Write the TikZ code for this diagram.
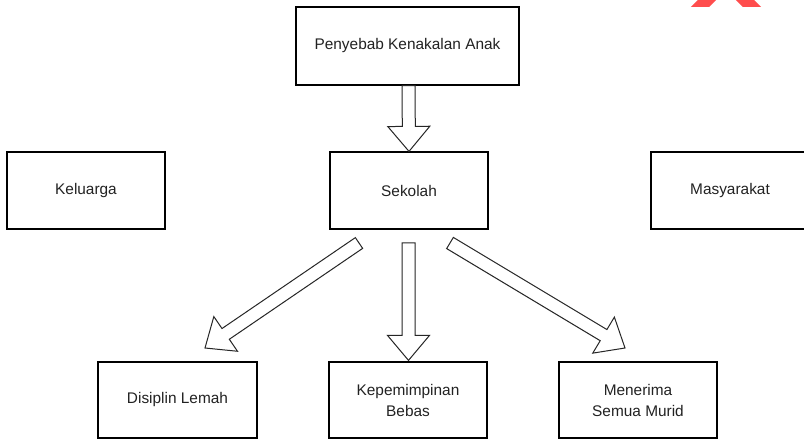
\documentclass[tikz,border=0pt]{standalone}
\usepackage{fontspec}
\setmainfont{Liberation Sans}
\usetikzlibrary{calc}
\definecolor{txt}{HTML}{222222}
\definecolor{xred}{HTML}{FF4D4D}
\tikzset{
  box/.style={draw=black, line width=1.2pt, fill=white, inner sep=0pt,
    text=txt, align=center, font=\fontsize{15.4}{21}\selectfont},
  fat/.style={draw=black!85, line width=1pt, fill=white, line join=miter},
}
\newcommand\fatarrow[2]{%
  \coordinate (fa-h) at ($(#2)!25pt!(#1)$);
  \draw[fat] ($(#1)!6.5pt!90:(#2)$) -- ($(fa-h)!6.5pt!90:(#2)$)
    -- ($(fa-h)!21pt!90:(#2)$) -- (#2) -- ($(fa-h)!21pt!-90:(#2)$)
    -- ($(fa-h)!6.5pt!-90:(#2)$) -- ($(#1)!6.5pt!-90:(#2)$) -- cycle;}
\begin{document}
\begin{tikzpicture}[x=1pt,y=-1pt]
\useasboundingbox (0,0) rectangle (804,443);
\fill[white] (0,0) rectangle (804,443);
% red mark, top right
\begin{scope}
\clip (680,0) rectangle (763,7);
\draw[xred, line width=13pt] (730,-23) -- (695,12);
\draw[xred, line width=13pt] (722,-23) -- (757,12);
\end{scope}
% boxes
\node[box, minimum width=223pt, minimum height=78pt] (top) at (407.5,46) {Penyebab Kenakalan Anak};
\node[box, minimum width=158pt, minimum height=77pt] (kel) at (86,190.5) {Keluarga};
\node[box, minimum width=158pt, minimum height=77pt] (sek) at (409,190.5) {Sekolah};
\node[box, minimum width=158pt, minimum height=77pt] (mas) at (730,190.5) {Masyarakat};
\node[box, minimum width=159pt, minimum height=76pt] (dis) at (177.5,400) {Disiplin Lemah};
\node[box, minimum width=158pt, minimum height=76pt] (kep) at (408,400) {Kepemimpinan\\Bebas};
\node[box, minimum width=158pt, minimum height=76pt] (men) at (638,400) {Menerima\\Semua Murid};
% arrow ends
\coordinate (a0) at ($(top.south)+(1,0)$);
\coordinate (b0) at (sek.north);
\coordinate (a1) at (359,243);
\coordinate (b1) at (205,348);
\coordinate (a2) at (408.5,243);
\coordinate (b2) at ($(kep.north)+(0.5,-1)$);
\coordinate (a3) at (450,243);
\coordinate (b3) at (625,348);
\fatarrow{a0}{b0}
\fatarrow{a1}{b1}
\fatarrow{a2}{b2}
\fatarrow{a3}{b3}
\end{tikzpicture}
\end{document}
